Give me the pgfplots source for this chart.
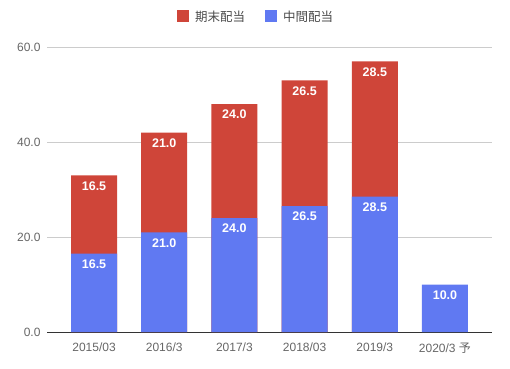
\documentclass[border=0pt]{standalone}
\usepackage{pgfplots}
\pgfplotsset{compat=1.18}
\usepackage{fontspec}
\setmainfont{Liberation Sans}
\newfontfamily\cjk{Noto Sans CJK JP}
\definecolor{cred}{HTML}{CF4539}
\definecolor{cblue}{HTML}{6079F2}
\definecolor{ctick}{HTML}{666666}
\definecolor{cgrid}{HTML}{CCCCCC}
\begin{document}
\begin{tikzpicture}[x=1pt,y=1pt]
\path[use as bounding box] (0,0) rectangle (510,368);
\begin{axis}[
  at={(47pt,36pt)}, anchor=south west,
  scale only axis, width=445pt, height=285pt,
  ybar, bar width=46pt, bar shift=0pt,
  xmin=-0.67, xmax=5.67, ymin=0, ymax=60,
  xtick={0,1,2,3,4,5},
  xticklabels={2015/03,2016/3,2017/3,2018/03,2019/3,{2020/3 {\cjk 予}}},
  ytick={0,20,40,60},
  ymajorgrids, grid style={cgrid, line width=0.8pt},
  axis x line*=bottom, axis y line*=left,
  y axis line style={draw=none},
  x axis line style={draw=black!80, line width=0.9pt, -},
  major tick length=0pt,
  tick label style={font=\fontsize{12}{14}\selectfont, text=ctick},
  yticklabel style={/pgf/number format/fixed, /pgf/number format/fixed zerofill, /pgf/number format/precision=1, /pgf/number format/assume math mode=true, xshift=-3pt},
  xticklabel style={yshift=-7pt},
  nodes near coords,
  nodes near coords style={/pgf/number format/fixed, /pgf/number format/fixed zerofill, /pgf/number format/precision=1, /pgf/number format/assume math mode=true},
  every node near coord/.append style={anchor=north, yshift=-2.5pt, text=white, font=\bfseries\fontsize{12.5}{14}\selectfont},
  legend style={at={(0.47,1.105)}, anchor=center, draw=none, fill=none, legend columns=2,
    font=\fontsize{12.5}{14}\selectfont, text=black!70,
    /tikz/every odd column/.append style={column sep=4pt},
    /tikz/every even column/.append style={column sep=18pt}},
  legend image code/.code={\fill[#1] (0pt,-5pt) rectangle (12pt,7pt);},
]
\addplot[fill=cred, draw=none, point meta=explicit] coordinates {(0,33.0) [16.5] (1,42.0) [21.0] (2,48.0) [24.0] (3,53.0) [26.5] (4,57.0) [28.5]};
\addlegendentry{\cjk 期末配当}
\addplot[fill=cblue, draw=none, point meta=y] coordinates {(0,16.5) (1,21.0) (2,24.0) (3,26.5) (4,28.5) (5,10.0)};
\addlegendentry{\cjk 中間配当}
\end{axis}
\end{tikzpicture}
\end{document}
